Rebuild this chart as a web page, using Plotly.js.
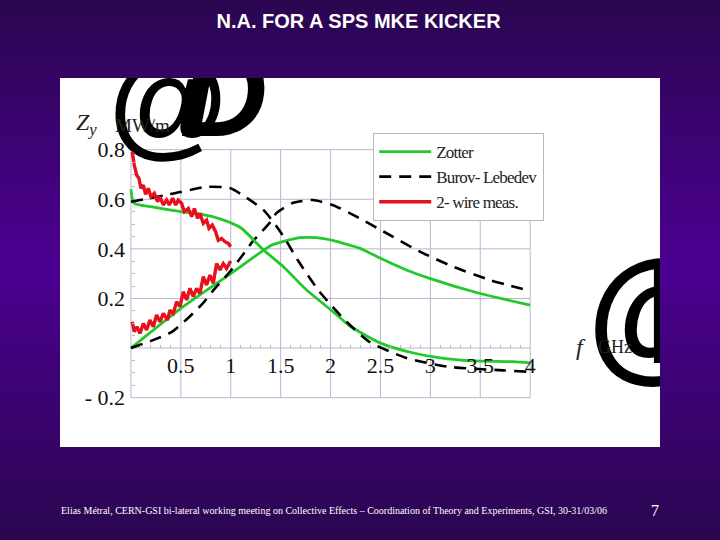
<![CDATA[<!DOCTYPE html>
<html><head><meta charset="utf-8">
<script src="https://cdn.plot.ly/plotly-3.0.1.min.js"></script>
<style>html,body{margin:0;padding:0;width:720px;height:540px;overflow:hidden;background:linear-gradient(180deg,#2a0650 0%,#4b0090 48%,#4b0090 50%,#2a0650 100%)}#c{width:720px;height:540px}.legendtext{letter-spacing:-0.8px}</style>
</head><body><div id="c"></div>
<script>
const titleText="<b>N.A. FOR A SPS MKE KICKER</b>";
const footer="Elias Métral, CERN-GSI bi-lateral working meeting on Collective Effects – Coordination of Theory and Experiments, GSI, 30-31/03/06";
const pageNo="7";
const xTicks=[0.5,1,1.5,2,2.5,3,3.5,4];
const xLabels=["0.5","1","1.5","2","2.5","3","3.5","4"];
const yTicks=[-0.2,0.2,0.4,0.6,0.8];
const yLabels=["- 0.2","0.2","0.4","0.6","0.8"];
const xMinor=[0.1,0.2,0.3,0.4,0.6,0.7,0.8,0.9,1.1,1.2,1.3,1.4,1.6,1.7,1.8,1.9,2.1,2.2,2.3,2.4,2.6,2.7,2.8,2.9,3.1,3.2,3.3,3.4,3.6,3.7,3.8,3.9];
const yMinor=[-0.15,-0.1,-0.05,0.05,0.1,0.15,0.25,0.3,0.35,0.45,0.5,0.55,0.65,0.7,0.75];

const zotterAx=[0,0.03,0.2,0.5,0.7,0.9,1.1,1.33,1.53,1.76,2.03,2.19,2.5,2.83,3.1,3.43,3.83,4];
const zotterAy=[0.64,0.585,0.57,0.55,0.54,0.52,0.485,0.395,0.327,0.234,0.145,0.09,0.02,-0.02,-0.04,-0.052,-0.055,-0.06];
const zotterBx=[0,0.5,1,1.33,1.41,1.53,1.69,1.86,2.03,2.19,2.29,2.5,2.76,3,3.47,4];
const zotterBy=[0,0.16,0.30,0.395,0.415,0.43,0.445,0.445,0.433,0.415,0.403,0.362,0.315,0.28,0.223,0.173];
const burovAx=[0,0.39,0.76,0.99,1.16,1.33,1.46,1.56,1.67,1.89,2.16,2.39,2.76,3.17,3.73,3.97,4];
const burovAy=[0.59,0.62,0.65,0.645,0.606,0.556,0.49,0.43,0.355,0.227,0.106,0.025,-0.04,-0.075,-0.09,-0.095,-0.095];
const burovBx=[0,0.24,0.41,0.57,0.72,0.84,0.99,1.12,1.22,1.39,1.46,1.62,1.82,2.02,2.26,2.53,2.9,3.23,3.6,4];
const burovBy=[0,0.035,0.065,0.12,0.18,0.24,0.307,0.375,0.43,0.505,0.545,0.585,0.597,0.577,0.53,0.47,0.388,0.328,0.274,0.23];
const wireAx=[0.013,0.033,0.057,0.08,0.1,0.124,0.147,0.174,0.2,0.234,0.267,0.29,0.324,0.357,0.384,0.418,0.448,0.474,0.508,0.534,0.575,0.608,0.635,0.668,0.691,0.725,0.758,0.782,0.815,0.848,0.875,0.908,0.942,0.975,0.999];
const wireAy=[0.792,0.738,0.698,0.684,0.644,0.657,0.62,0.644,0.61,0.624,0.59,0.61,0.577,0.597,0.577,0.604,0.577,0.597,0.583,0.55,0.563,0.53,0.563,0.523,0.543,0.503,0.516,0.483,0.496,0.469,0.435,0.442,0.429,0.422,0.409];
const wireBx=[0.013,0.033,0.06,0.09,0.124,0.157,0.19,0.224,0.257,0.29,0.324,0.367,0.39,0.424,0.458,0.491,0.524,0.558,0.591,0.624,0.658,0.691,0.725,0.758,0.791,0.825,0.858,0.892,0.925,0.958,0.999];
const wireBy=[0.106,0.066,0.086,0.059,0.099,0.073,0.113,0.086,0.133,0.106,0.14,0.113,0.153,0.14,0.187,0.167,0.227,0.194,0.241,0.207,0.241,0.22,0.288,0.254,0.294,0.261,0.341,0.315,0.341,0.321,0.351];
const topGlyphX=[0.35,0.93];
const topGlyphY=[0.946,0.98];
const topGlyphText=["@","D"];
const lowGlyphX=[5.29,5.14];
const lowGlyphY=[0.09,0.09];
const lowGlyphText=["@","D"];

const G="#22c92a",K="#000",R="#e8101a",GRID="#b9b6cf";
const line=(x,y,color,dash,name,show,w)=>({type:"scatter",mode:"lines",x,y,name,showlegend:show,line:{color,dash,width:w,shape:"spline",smoothing:0.6},cliponaxis:true,hoverinfo:"skip"});
const raw=(x,y,name,show)=>({type:"scatter",mode:"lines",x,y,name,showlegend:show,line:{color:R,width:3.4},hoverinfo:"skip"});
const glyph=(x,y,text,style,size,pos)=>({type:"scatter",mode:"text",x,y,text,textposition:pos,cliponaxis:true,showlegend:false,hoverinfo:"skip",textfont:{family:"Liberation Sans",size,color:"#000",style,weight:"bold"}});
const data=[
 glyph(topGlyphX,topGlyphY,topGlyphText,"italic",122,"middle center"),
 glyph(lowGlyphX,lowGlyphY,lowGlyphText,"normal",148,["middle center","middle right"]),
 line(zotterBx,zotterBy,G,"solid","Zotter",true,2.8),
 line(burovBx,burovBy,K,"12px,8px","Burov- Lebedev",true,2.6),
 raw(wireBx,wireBy,"2- wire meas.",true),
 line(zotterAx,zotterAy,G,"solid","Zotter real",false,2.8),
 line(burovAx,burovAy,K,"12px,8px","Burov real",false,2.6),
 raw(wireAx,wireAy,"2-wire real",false)
];
const shapes=[];
const ln=(x0,y0,x1,y1,c,w)=>shapes.push({type:"line",xref:"x",yref:"y",x0,y0,x1,y1,layer:"below",line:{color:c,width:w}});
[0].concat(xTicks).forEach(v=>ln(v,-0.2,v,0.8,GRID,1));
yTicks.concat([0]).forEach(v=>ln(0,v,4,v,GRID,1));
const tickFont={family:"Liberation Serif",size:22,color:"#111"};
const layout={
 width:720,height:540,margin:{l:60,r:60,t:78,b:93},autosize:false,
 paper_bgcolor:"rgba(0,0,0,0)",plot_bgcolor:"#fff",
 title:{text:titleText,x:0.498,xanchor:"center",y:0.961,yanchor:"middle",font:{family:"Liberation Sans",size:20,color:"#fff"}},
 xaxis:{range:[-0.711,5.301],anchor:"free",position:0.268,showgrid:false,zeroline:false,showline:false,tickmode:"array",tickvals:xTicks,ticktext:xLabels,ticks:"",tickfont:tickFont,ticklabelstandoff:2,
   minor:{tickmode:"array",tickvals:xMinor,ticks:"inside",ticklen:3,tickcolor:GRID,showgrid:false}},
 yaxis:{range:[-0.399,1.089],anchor:"free",position:0.1183,showgrid:false,zeroline:false,showline:false,tickmode:"array",tickvals:yTicks,ticktext:yLabels,ticks:"",tickfont:tickFont,ticklabelstandoff:6,
   minor:{tickmode:"array",tickvals:yMinor,ticks:"inside",ticklen:3,tickcolor:GRID,showgrid:false}},
 shapes,
 legend:{x:0.522,xanchor:"left",y:0.851,yanchor:"top",bgcolor:"#fff",bordercolor:"#b8b8c4",borderwidth:1,font:{family:"Liberation Serif",size:17,color:"#222"},itemwidth:52,tracegroupgap:0},
 annotations:[
  {xref:"paper",yref:"paper",x:0.024,y:0.875,xanchor:"left",yanchor:"middle",text:"<i>Z<sub>y</sub></i>",showarrow:false,font:{family:"Liberation Serif",size:24,color:"#222"}},
  {xref:"paper",yref:"paper",x:0.088,y:0.87,xanchor:"left",yanchor:"middle",text:"MW/m",showarrow:false,font:{family:"Liberation Serif",size:19,color:"#222"}},
  {xref:"paper",yref:"paper",x:0.857,y:0.27,xanchor:"left",yanchor:"middle",text:"<i>f</i>",showarrow:false,font:{family:"Liberation Serif",size:24,color:"#222"}},
  {xref:"paper",yref:"paper",x:0.893,y:0.27,xanchor:"left",yanchor:"middle",text:"GHz",showarrow:false,font:{family:"Liberation Serif",size:18,color:"#222"}},
  {xref:"paper",yref:"paper",x:-0.002,y:-0.172,xanchor:"left",yanchor:"middle",text:footer,showarrow:false,font:{family:"Liberation Serif",size:10,color:"#fff"}},
  {xref:"paper",yref:"paper",x:0.992,y:-0.172,xanchor:"center",yanchor:"middle",text:pageNo,showarrow:false,font:{family:"Liberation Serif",size:16,color:"#fff"}}
 ]
};
Plotly.newPlot("c",data,layout,{displayModeBar:false,staticPlot:true});
</script></body></html>]]>
